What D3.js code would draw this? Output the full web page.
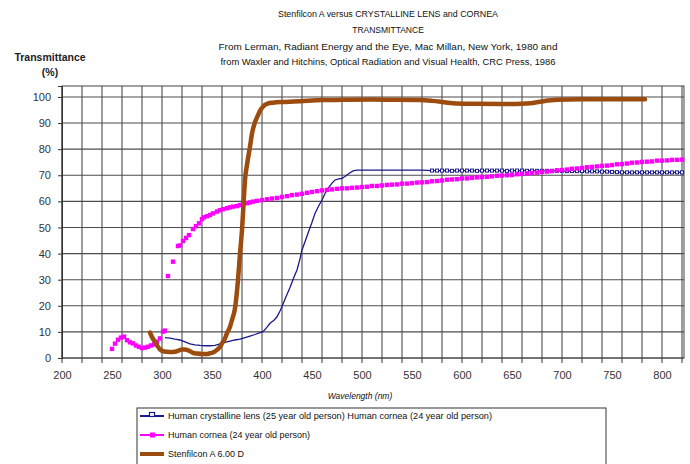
<!DOCTYPE html>
<html>
<head>
<meta charset="utf-8">
<script src="https://cdn.jsdelivr.net/npm/d3@7"></script>
<style>
body{margin:0;background:#fff;}
svg{display:block;font-family:"Liberation Sans",Arial,sans-serif;}
</style>
</head>
<body>
<svg id="chart" width="690" height="464"></svg>
<script>
var titleLines = [
    "Stenfilcon A versus CRYSTALLINE LENS and CORNEA",
    "TRANSMITTANCE",
    "From Lerman, Radiant Energy and the Eye, Mac Millan, New York, 1980 and",
    "from Waxler and Hitchins, Optical Radiation and Visual Health, CRC Press, 1986"
];
var legendLabels = [
    "Human crystalline lens (25 year old person) Human cornea (24 year old person)",
    "Human cornea (24 year old person)",
    "Stenfilcon A   6.00 D"
];

var xLabelTicks = [200,250,300,350,400,450,500,550,600,650,700,750,800];
var xGridTicks = [200,220,240,260,280,300,320,340,360,380,400,420,440,460,480,500,520,540,560,580,600,620,640,660,680,700,720,740,760,780,800,820];
var yTicks = [0,10,20,30,40,50,60,70,80,90,100];

// human cornea (magenta markers)
var corneaNm = [250,253,256,259,262,265,268,271,274,277,280,283,286,289,292,295,298,301,303,306,311,316,318,321,324,327,331,334,337,340,342,345,348,351,355,358,361,365,368,371,375,378,381,385,388,391,395,400,
    405,410,415,420,425,430,435,440,445,450,455,460,465,470,475,480,485,490,495,500,505,510,515,520,525,530,535,540,545,550,555,560,565,570,575,580,585,590,595,600,
    605,610,615,620,625,630,635,640,645,650,655,660,665,670,675,680,685,690,695,700,705,710,715,720,725,730,735,740,745,750,755,760,765,770,775,780,785,790,795,800,805,810,815,820];
var corneaPct = [3.5,5.5,7.0,7.8,8.2,6.8,6.0,5.6,4.8,4.3,3.8,4.0,4.3,4.8,5.2,6.2,7.5,10.1,10.5,31.4,36.9,42.9,43.1,44.8,46.0,47.1,49.4,50.5,51.6,53.2,53.9,54.3,54.8,55.4,56.1,56.6,57.0,57.4,57.7,58.0,58.2,58.6,58.9,59.3,59.6,59.9,60.2,60.5,
    60.8,61.1,61.3,61.7,62.0,62.4,62.6,62.9,63.3,63.6,63.9,64.2,64.4,64.6,64.8,65.0,65.0,65.2,65.3,65.5,65.6,65.9,65.9,66.1,66.3,66.4,66.5,66.8,66.8,67.0,67.2,67.3,67.4,67.7,67.8,68.0,68.3,68.4,68.5,68.8,
    68.8,69.0,69.2,69.3,69.4,69.6,69.8,69.9,70.0,70.1,70.4,70.5,70.7,70.9,71.0,71.3,71.4,71.6,71.9,72.0,72.2,72.5,72.6,72.8,73.1,73.2,73.4,73.6,73.7,73.9,74.2,74.3,74.5,74.8,74.9,75.1,75.2,75.3,75.6,75.6,75.7,75.9,75.9,76.0];

// human crystalline lens (navy line)
var lensNm = [303,308,313,318,323,328,333,338,343,348,353,358,363,368,373,378,383,388,393,398,401,405,408,412,415,418,420,424,428,432,435,438,440,443,446,450,453,457,460,463,466,470,473,477,480,483,485,488,491,495,
    500,510,520,530,540,550,560,570,575,580,585,590,595,600,605,610,615,620,625,630,635,640,645,650,655,660,665,670,675,680,685,690,695,700,
    705,710,715,720,725,730,735,740,745,750,755,760,765,770,775,780,785,790,795,800,805,810,815,820];
var lensPct = [7.8,7.6,7.2,6.9,6.2,5.4,5.0,4.8,4.7,4.7,4.8,5.4,6.0,6.5,6.9,7.2,7.8,8.4,9.0,9.7,10.1,11.8,13.3,14.5,15.8,18.0,19.7,23.5,27.0,31.0,33.7,38.0,41.4,44.5,47.8,52.0,55.4,58.5,60.5,63.0,65.0,67.0,68.2,68.6,68.8,69.5,70.1,71.0,71.7,72.0,
    72.0,72.0,72.0,72.0,72.0,72.0,72.0,71.8,71.8,71.8,71.8,71.7,71.8,71.8,71.8,71.8,71.7,71.8,71.8,71.8,71.8,71.8,71.7,71.8,71.8,71.8,71.7,71.8,71.7,71.7,71.7,71.7,71.7,71.7,
    71.6,71.6,71.6,71.6,71.5,71.5,71.5,71.4,71.4,71.3,71.2,71.1,71.1,71.1,71.1,71.1,71.1,71.1,71.1,71.1,71.1,71.1,71.1,71.1];

// Stenfilcon A 6.00 D (thick brown)
var stenNm = [288,290,293,296,298,301,305,309,313,317,320,323,325,328,331,335,340,344,348,352,355,358,360,363,365,368,370,373,376,378,380,382,383,385,388,390,393,396,398,400,403,406,411,420,438,460,480,510,530,558,570,580,591,610,641,660,668,680,695,720,741,760,783];
var stenPct = [9.7,8.0,6.2,4.3,3.3,2.6,2.4,2.3,2.4,2.9,3.3,3.3,3.1,2.6,2.0,1.7,1.5,1.5,1.8,2.3,3.1,4.3,5.6,7.5,9.5,12.0,14.6,19.0,29.9,40.0,49.0,62.0,68.2,74.0,81.0,86.0,90.3,93.0,94.7,95.8,97.0,97.5,97.8,98.1,98.4,98.8,98.9,99.0,98.9,98.8,98.5,98.1,97.6,97.4,97.3,97.4,97.6,98.3,98.9,99.1,99.1,99.1,99.1];

var colLens = "#1a1a8c", colCornea = "#ff00ff", colSten = "#9c4c0e";

function zip(xs, ys)
{
    return xs.map(function(d,i){ return {nm:d, v:ys[i]}; });
}

function draw()
{
    var svg = d3.select("#chart");
    svg.append("rect").attr("width",690).attr("height",464).attr("fill","#fff");

    var x = d3.scaleLinear().domain([200,822]).range([62,684]);
    var y = d3.scaleLinear().domain([0,104.2]).range([358,86]);

    // titles
    var titleY = [17,33,50,65];
    var titleW = [220,0,339,335];
    svg.selectAll(".title")
        .data(titleLines)
      .enter().append("text")
        .attr("class","title")
        .attr("x",388)
        .attr("y",function(d,i){ return titleY[i]; })
        .attr("text-anchor","middle")
        .style("font-size","8.5px")
        .style("fill","#111")
        .each(function(d,i){
            if(titleW[i]>0)
                d3.select(this).attr("textLength",titleW[i]).attr("lengthAdjust","spacingAndGlyphs");
        })
        .text(function(d){ return d; });

    svg.append("text")
        .attr("x",50).attr("y",61)
        .attr("text-anchor","middle")
        .style("font-size","10.5px").style("font-weight","bold").style("fill","#222")
        .text("Transmittance");
    svg.append("text")
        .attr("x",50).attr("y",76)
        .attr("text-anchor","middle")
        .style("font-size","10.5px").style("font-weight","bold").style("fill","#222")
        .text("(%)");

    // grid
    var grid = svg.append("g");
    grid.selectAll(".vg")
        .data(xGridTicks)
      .enter().append("line")
        .attr("x1",function(d){ return x(d); })
        .attr("x2",function(d){ return x(d); })
        .attr("y1",86).attr("y2",358)
        .attr("stroke","#4c4c4c").attr("stroke-width",1.1);
    grid.selectAll(".hg")
        .data(yTicks)
      .enter().append("line")
        .attr("x1",62).attr("x2",684)
        .attr("y1",function(d){ return y(d); })
        .attr("y2",function(d){ return y(d); })
        .attr("stroke","#4c4c4c").attr("stroke-width",1.1);
    svg.append("rect")
        .attr("x",62).attr("y",86).attr("width",622).attr("height",272)
        .attr("fill","none").attr("stroke","#444");

    // axes
    svg.append("g")
        .attr("transform","translate(62,0)")
        .call(d3.axisLeft(y).tickValues(yTicks).tickSize(4).tickPadding(7))
        .call(function(g){
            g.select(".domain").attr("stroke","#333");
            g.selectAll(".tick line").attr("stroke","#333");
            g.selectAll("text").style("font-size","11px").style("fill","#333")
                .style("font-family","Liberation Sans, Arial, sans-serif");
        });

    svg.append("g")
        .selectAll("line")
        .data(xGridTicks)
      .enter().append("line")
        .attr("x1",function(d){ return x(d); })
        .attr("x2",function(d){ return x(d); })
        .attr("y1",358).attr("y2",363)
        .attr("stroke","#333");

    svg.append("g")
        .attr("transform","translate(0,358)")
        .call(d3.axisBottom(x).tickValues(xLabelTicks).tickSize(0).tickPadding(13))
        .call(function(g){
            g.select(".domain").remove();
            g.selectAll("text").style("font-size","11px").style("fill","#333")
                .style("font-family","Liberation Sans, Arial, sans-serif");
        });

    svg.append("text")
        .attr("x",360).attr("y",399)
        .attr("text-anchor","middle")
        .style("font-size","8.5px").style("font-style","italic").style("fill","#111")
        .text("Wavelength (nm)");

    var line = d3.line()
        .x(function(d){ return x(d.nm); })
        .y(function(d){ return y(d.v); });

    // lens
    var lens = zip(lensNm, lensPct);
    svg.append("path")
        .datum(lens)
        .attr("d", line)
        .attr("fill","none")
        .attr("stroke",colLens)
        .attr("stroke-width",1.3);
    svg.selectAll(".lensMark")
        .data(lens.filter(function(d){ return d.nm >= 570; }))
      .enter().append("rect")
        .attr("x",function(d){ return x(d.nm)-1.5; })
        .attr("y",function(d){ return y(d.v)-1.5; })
        .attr("width",3).attr("height",3)
        .attr("fill","#fff")
        .attr("stroke",colLens)
        .attr("stroke-width",1);

    // cornea
    svg.selectAll(".corneaMark")
        .data(zip(corneaNm, corneaPct))
      .enter().append("rect")
        .attr("x",function(d){ return x(d.nm)-2.2; })
        .attr("y",function(d){ return y(d.v)-2.2; })
        .attr("width",4.4).attr("height",4.4)
        .attr("fill",colCornea);

    // stenfilcon
    svg.append("path")
        .datum(zip(stenNm, stenPct))
        .attr("d", d3.line()
            .x(function(d){ return x(d.nm); })
            .y(function(d){ return y(d.v); })
            .curve(d3.curveMonotoneX))
        .attr("fill","none")
        .attr("stroke",colSten)
        .attr("stroke-width",4.5)
        .attr("stroke-linecap","round")
        .attr("stroke-linejoin","round");

    // legend
    var lg = svg.append("g");
    lg.append("rect")
        .attr("x",137).attr("y",408).attr("width",469).attr("height",70)
        .attr("fill","#fff").attr("stroke","#333");
    var rowY = [416,435,454];
    var rowW = [324,0,0];
    var rows = lg.selectAll(".row")
        .data(legendLabels)
      .enter().append("g")
        .attr("transform",function(d,i){ return "translate(0,"+rowY[i]+")"; });
    rows.append("line")
        .attr("x1",140).attr("x2",164)
        .attr("stroke",function(d,i){ return [colLens,colCornea,colSten][i]; })
        .attr("stroke-width",function(d,i){ return [2,2,4][i]; });
    rows.filter(function(d,i){ return i==0; })
        .append("rect")
        .attr("x",149.5).attr("y",-3.5).attr("width",5).attr("height",4)
        .attr("fill","#fff").attr("stroke",colLens).attr("stroke-width",1.2);
    rows.filter(function(d,i){ return i==1; })
        .append("rect")
        .attr("x",150).attr("y",-2.5).attr("width",5).attr("height",5)
        .attr("fill",colCornea);
    rows.append("text")
        .attr("x",168).attr("dy","0.35em")
        .style("font-size","9px").style("fill","#111")
        .each(function(d,i){
            if(rowW[i]>0)
                d3.select(this).attr("textLength",rowW[i]).attr("lengthAdjust","spacingAndGlyphs");
        })
        .text(function(d){ return d; });
}

draw();
</script>
</body>
</html>
